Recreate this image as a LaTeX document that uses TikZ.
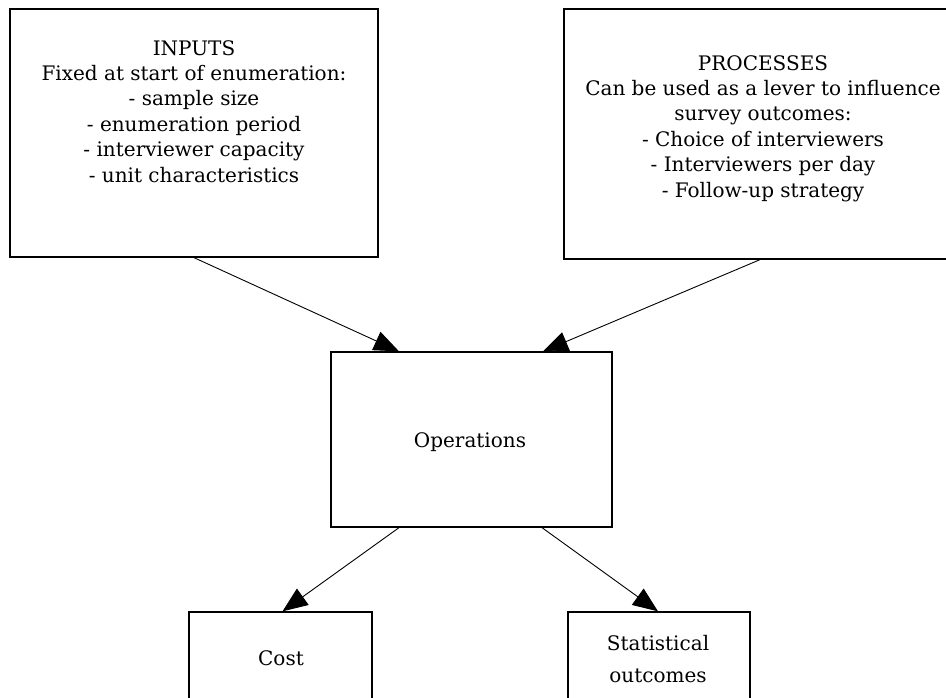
\documentclass[tikz,border=0pt]{standalone}
\usepackage{fontspec}
\setmainfont{DejaVu Serif}
\usetikzlibrary{arrows.meta}
\begin{document}
\begin{tikzpicture}[x=1pt,y=-1pt,
  box/.style={draw, line width=1.3pt, rectangle, inner sep=0pt, fill=white},
  txt/.style={align=center, inner sep=0pt, anchor=north, font=\fontsize{20}{25.4}\selectfont},
  conn/.style={line width=0.9pt, -{Triangle[length=25pt,width=20pt]}}]
\useasboundingbox (0,0) rectangle (946,698);
\clip (0,0) rectangle (946,698);
% boxes
\node[box, minimum width=368pt, minimum height=248pt] (inputs) at (194,133) {};
\node[box, minimum width=398pt, minimum height=250pt] (proc) at (763,134) {};
\node[box, minimum width=281pt, minimum height=175pt] (ops) at (471.5,439.5) {};
\node[box, minimum width=183pt, minimum height=140pt] (cost) at (280.5,682) {};
\node[box, minimum width=182pt, minimum height=140pt] (stat) at (659,682) {};
% texts
\node[txt] (inputsT) at (194,40) {INPUTS\\Fixed at start of enumeration:\\- sample size\\- enumeration period\\- interviewer capacity\\- unit characteristics};
\node[txt] (procT) at (763,55) {PROCESSES\\Can be used as a lever to influence\\survey outcomes:\\- Choice of interviewers\\- Interviewers per day\\- Follow-up strategy};
\node[txt] (opsT) at (470,432) {Operations};
\node[txt] (costT) at (281,650) {Cost};
\node[txt, font=\fontsize{20}{32}\selectfont] (statT) at (658,635) {Statistical\\outcomes};
% connectors
\draw[conn] (inputs.south) -- ([xshift=-72.5pt]ops.north);
\draw[conn] ([xshift=-3pt]proc.south) -- ([xshift=71.5pt]ops.north);
\draw[conn] ([xshift=-72.5pt]ops.south) -- ([xshift=2pt]cost.north);
\draw[conn] ([xshift=70.5pt]ops.south) -- ([xshift=-1pt]stat.north);
\end{tikzpicture}
\end{document}
